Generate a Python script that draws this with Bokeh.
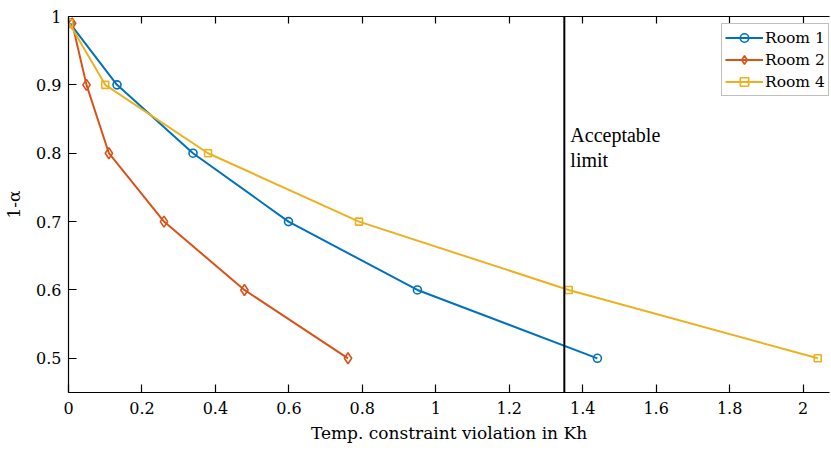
from bokeh.plotting import figure
from bokeh.models import (Span, LinearAxis, FixedTicker, Legend, LegendItem, Label)
from bokeh.embed import file_html
from bokeh.resources import INLINE

# ---- data ----
levels = [0.99, 0.9, 0.8, 0.7, 0.6, 0.5]
room1_x = [0.004, 0.132, 0.339, 0.599, 0.950, 1.440]
room2_x = [0.010, 0.049, 0.110, 0.260, 0.479, 0.761]
room4_x = [0.002, 0.100, 0.380, 0.791, 1.362, 2.040]
limit_x = 1.35
x_ticks = [0, 0.2, 0.4, 0.6, 0.8, 1.0, 1.2, 1.4, 1.6, 1.8, 2.0]
x_tick_labels = ["0", "0.2", "0.4", "0.6", "0.8", "1", "1.2", "1.4", "1.6", "1.8", "2"]
y_ticks = [0.5, 0.6, 0.7, 0.8, 0.9, 1.0]
y_tick_labels = ["0.5", "0.6", "0.7", "0.8", "0.9", "1"]
x_min, x_max = 0, 2.072
y_min, y_max = 0.45, 1.0

FONT = "DejaVu Serif"
FONT2 = "Liberation Serif"
C1, C2, C4 = "#0072BD", "#D95319", "#EDB120"

p = figure(width=831, height=450, x_range=(x_min, x_max), y_range=(y_min, y_max),
           output_backend="svg", toolbar_location=None)
p.min_border_left = 68
p.min_border_right = 2
p.min_border_top = 16
p.min_border_bottom = 58
p.outline_line_color = None
p.grid.visible = False
p.background_fill_color = "white"
p.border_fill_color = "white"

def style_axis(ax, tick=8):
    ax.axis_line_color = "black"
    ax.axis_line_width = 1.2
    ax.major_tick_in = tick
    ax.major_tick_out = 0
    ax.major_tick_line_width = 1.2
    ax.minor_tick_line_color = None
    ax.major_tick_line_color = "black"
    ax.major_label_text_font = FONT
    ax.major_label_text_font_size = "16px"
    ax.major_label_text_color = "black"
    ax.axis_label_text_font = FONT
    ax.axis_label_text_font_size = "17px"
    ax.axis_label_text_font_style = "normal"
    ax.axis_label_text_color = "black"

xa = p.xaxis[0]
xa.ticker = FixedTicker(ticks=x_ticks)
xa.major_label_overrides = {t: l for t, l in zip(x_ticks, x_tick_labels)}
xa.axis_label = "Temp. constraint violation in Kh"
style_axis(xa)
xa.major_label_standoff = 9
xa.axis_label_standoff = 6

ya = p.yaxis[0]
ya.ticker = FixedTicker(ticks=y_ticks)
ya.major_label_overrides = {t: l for t, l in zip(y_ticks, y_tick_labels)}
ya.axis_label = "1-α"
style_axis(ya)
ya.major_label_standoff = 7
ya.axis_label_standoff = 9

top = LinearAxis(ticker=FixedTicker(ticks=x_ticks))
style_axis(top, tick=7)
top.major_label_overrides = {t: "" for t in x_ticks}
top.major_label_text_font_size = "1px"
top.major_label_standoff = 0
p.add_layout(top, "above")

# vertical limit line
p.add_layout(Span(location=limit_x, dimension="height", line_color="black", line_width=2))
p.add_layout(Label(x=limit_x, y=0.843, x_offset=6, text="Acceptable", text_font=FONT2,
                   text_font_size="20px", text_baseline="top", text_color="black"))
p.add_layout(Label(x=limit_x, y=0.806, x_offset=6, text="limit", text_font=FONT2,
                   text_font_size="20px", text_baseline="top", text_color="black"))

items = []
for xs, c, marker, size, name in [
    (room1_x, C1, "circle", 8, "Room 1"),
    (room2_x, C2, "diamond", 11, "Room 2"),
    (room4_x, C4, "square", 7, "Room 4"),
]:
    l = p.line(xs, levels, line_color=c, line_width=2)
    s = p.scatter(xs, levels, marker=marker, size=size, line_color=c, line_width=1.6,
                  fill_alpha=0)
    items.append(LegendItem(label=name, renderers=[l, s]))

legend = Legend(items=items, location=(653, 296))
legend.label_text_font = FONT
legend.label_text_font_size = "15.5px"
legend.label_text_color = "black"
legend.glyph_width = 38
legend.glyph_height = 21
legend.label_standoff = 2
legend.label_height = 21
legend.spacing = 1
legend.padding = 3
legend.margin = 0
legend.border_line_color = "#808080"
legend.border_line_width = 1
legend.background_fill_alpha = 1
p.add_layout(legend)

open("out.html", "w").write(file_html(p, INLINE))
